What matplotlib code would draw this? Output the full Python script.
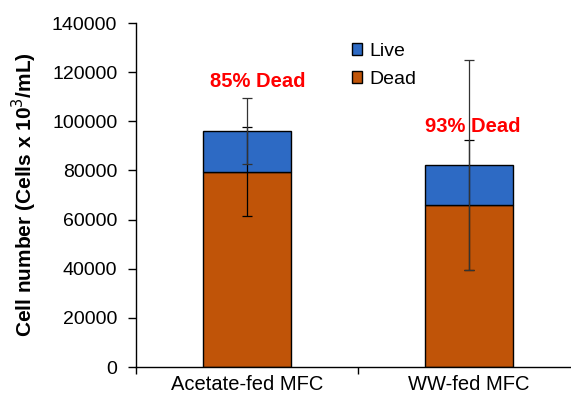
import matplotlib
matplotlib.use("Agg")
import matplotlib.pyplot as plt
from matplotlib.patches import Patch
import numpy as np

categories = ["Acetate-fed MFC", "WW-fed MFC"]
dead = [79500, 66000]
live = [16500, 16200]
dead_err = [18000, 26400]
live_err = [13300, 42700]
pct_labels = ["85% Dead", "93% Dead"]
pct_label_y = [116200, 98000]
pct_label_dx = [0.05, 0.018]
yticks = [0, 20000, 40000, 60000, 80000, 100000, 120000, 140000]

plt.rcParams['font.family'] = ['Liberation Sans', 'DejaVu Sans']

fig = plt.figure(figsize=(5.71, 4.01), dpi=100)
ax = fig.add_axes([136/571, 34/401, 444/571, 344/401])

x = np.arange(len(categories))
blue = '#2d6ac4'
orange = '#c05408'
ax.bar(x, dead, width=0.4, color=orange, edgecolor='black', linewidth=1.0, zorder=2)
ax.bar(x, live, width=0.4, bottom=dead, color=blue, edgecolor='black', linewidth=1.0, zorder=2)

totals = [d + l for d, l in zip(dead, live)]
ax.errorbar(x, dead, yerr=dead_err, fmt='none', ecolor='black', elinewidth=0.9,
            capsize=3.5, capthick=0.9, zorder=3)
ax.errorbar(x, totals, yerr=live_err, fmt='none', ecolor='#333333', elinewidth=0.9,
            capsize=3.5, capthick=0.9, zorder=3)

for xi, (t, yv, dx) in enumerate(zip(pct_labels, pct_label_y, pct_label_dx)):
    ax.text(xi + dx, yv, t, color='#ff0000', fontsize=14.5, fontweight='bold',
            ha='center', va='center', zorder=4)

ax.set_xlim(-0.5, 1.5)
ax.set_ylim(0, 140000)
ax.set_yticks(yticks)
ax.set_yticklabels([str(v) for v in yticks], fontsize=14)
ax.set_xticks(x)
ax.set_xticklabels(categories, fontsize=14.5)
ax.tick_params(axis='x', which='major', length=0, pad=6)
ax.set_xticks([-0.5, 0.5, 1.5], minor=True)
ax.tick_params(axis='x', which='minor', length=5, width=1, direction='out')
ax.tick_params(axis='y', length=6, width=1, direction='out', pad=7.5)

for s in ['top', 'right']:
    ax.spines[s].set_visible(False)
for s in ['left', 'bottom']:
    ax.spines[s].set_linewidth(1.0)

ax.set_ylabel("Cell number (Cells x 10$^{3}$/mL)", fontsize=15, fontweight='bold', labelpad=9)

handles = [Patch(facecolor=blue, edgecolor='black', label='Live'),
           Patch(facecolor=orange, edgecolor='black', label='Dead')]
ax.legend(handles=handles, loc='upper left', bbox_to_anchor=(0.486, 0.942), frameon=False,
          fontsize=14, handlelength=0.55, handleheight=0.55, handletextpad=0.35,
          labelspacing=0.55, borderpad=0, borderaxespad=0)

fig.savefig("out.png", dpi=100)
